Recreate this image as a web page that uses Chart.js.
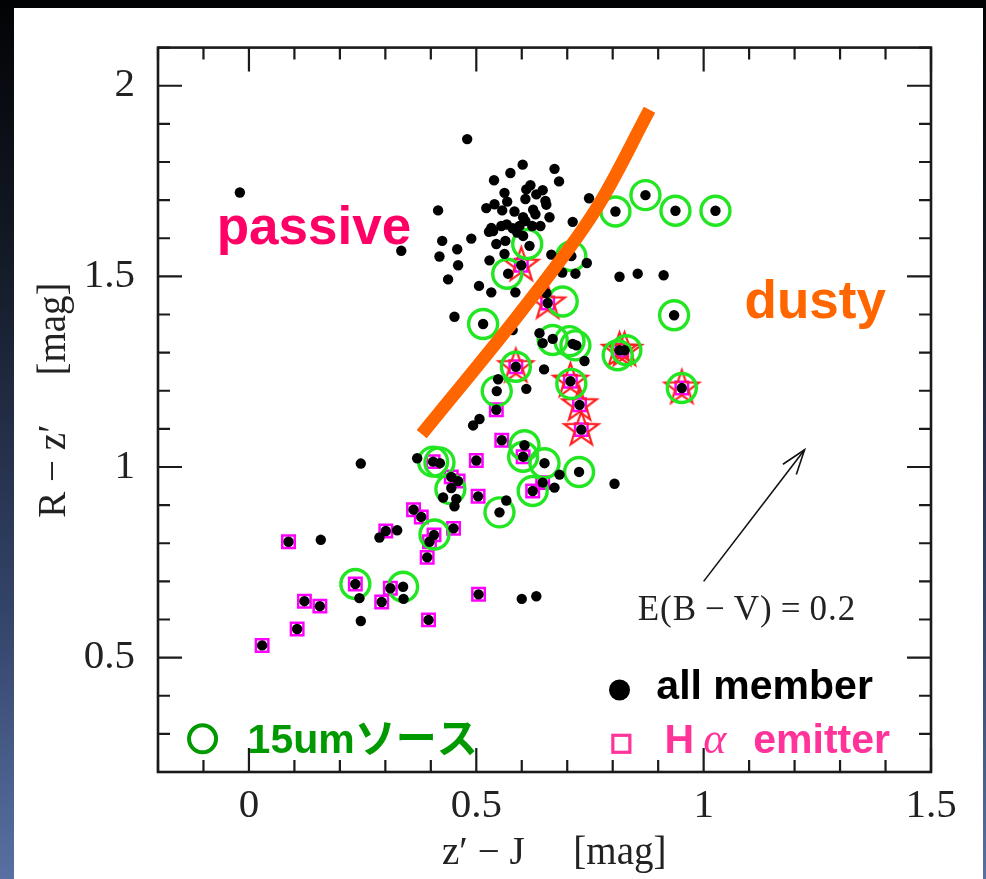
<!DOCTYPE html>
<html>
<head>
<meta charset="utf-8">
<script src="https://cdn.jsdelivr.net/npm/chart.js@4.4.0/dist/chart.umd.min.js"></script>
<style>
  html, body { margin: 0; padding: 0; }
  body {
    width: 986px; height: 879px; overflow: hidden; position: relative;
    background: linear-gradient(180deg, #020305 0%, #141b28 30%, #34446a 70%, #5870a2 100%);
  }
  #panel { position: absolute; left: 14px; top: 8px; width: 969px; height: 871px; background: #fff; }
  #chart { position: absolute; left: 0; top: 0; }
</style>
</head>
<body>
<div id="panel"></div>
<canvas id="chart" width="986" height="879"></canvas>
<script>
// colour-colour diagram: R-z' vs z'-J of cluster members

const X_TICKS = [0, 0.5, 1, 1.5];
const Y_TICKS = [0.5, 1, 1.5, 2];

// all members (filled dots)
const MEMBER_X = [
  -0.02, 0.48, 0.416, 0.539, 0.522, 0.540, 0.533, 0.335, 0.425, 0.489,
  0.419, 0.458, 0.460, 0.438, 0.529, 0.506, 0.533, 0.452, 0.515, 0.602,
  0.672, 0.575, 0.682, 0.619, 0.610, 0.646, 0.632, 0.562, 0.608, 0.652,
  0.654, 0.568, 0.557, 0.584, 0.625, 0.630, 0.603, 0.661, 0.748, 0.712,
  0.537, 0.555, 0.567, 0.580, 0.595, 0.608, 0.623, 0.641, 0.544, 0.564,
  0.603, 0.617, 0.590, 0.562, 0.665, 0.709, 0.743, 0.570, 0.586, 0.654,
  0.689, 0.718, 0.815, 0.855, 0.912, 0.806, 0.872, 0.938, 1.026, 0.935,
  0.580, 0.639, 0.646, 0.668, 0.712, 0.720, 0.738, 0.649, 0.587, 0.548,
  0.545, 0.610, 0.544, 0.507, 0.493, 0.599, 0.657, 0.707, 0.727, 0.731,
  0.815, 0.826, 0.952, 0.556, 0.606, 0.603, 0.650, 0.726, 0.683, 0.804,
  0.624, 0.646, 0.672, 0.551, 0.566, 0.370, 0.405, 0.420, 0.500, 0.445,
  0.427, 0.452, 0.456, 0.445, 0.460, 0.504, 0.362, 0.379, 0.407, 0.450,
  0.301, 0.326, 0.287, 0.087, 0.158, 0.397, 0.392, 0.234, 0.339, 0.311,
  0.340, 0.243, 0.292, 0.122, 0.156, 0.106, 0.029, 0.246, 0.395, 0.505,
  0.600, 0.632, 0.246, 0.528
];
const MEMBER_Y = [
  1.72, 1.86, 1.673, 1.752, 1.679, 1.689, 1.627, 1.567, 1.593, 1.599,
  1.552, 1.571, 1.529, 1.492, 1.542, 1.475, 1.458, 1.394, 1.375, 1.793,
  1.782, 1.771, 1.749, 1.739, 1.728, 1.726, 1.715, 1.719, 1.703, 1.698,
  1.688, 1.696, 1.673, 1.670, 1.675, 1.663, 1.655, 1.655, 1.705, 1.643,
  1.619, 1.632, 1.636, 1.626, 1.632, 1.645, 1.632, 1.632, 1.585, 1.593,
  1.606, 1.580, 1.615, 1.559, 1.557, 1.553, 1.535, 1.507, 1.458, 1.456,
  1.510, 1.507, 1.499, 1.507, 1.503, 1.670, 1.713, 1.672, 1.672, 1.398,
  1.359, 1.351, 1.325, 1.336, 1.323, 1.319, 1.278, 1.256, 1.263, 1.230,
  1.199, 1.205, 1.150, 1.126, 1.109, 1.529, 1.430, 1.225, 1.163, 1.098,
  1.306, 1.306, 1.207, 1.070, 1.057, 1.027, 1.010, 0.987, 0.980, 0.956,
  0.937, 0.959, 0.946, 0.881, 0.912, 1.023, 1.014, 1.010, 1.017, 0.945,
  0.920, 0.897, 0.916, 0.974, 0.963, 0.923, 0.888, 0.869, 0.822, 0.839,
  0.832, 0.834, 0.815, 0.804, 0.809, 0.804, 0.763, 0.693, 0.686, 0.682,
  0.654, 0.656, 0.646, 0.648, 0.635, 0.575, 0.532, 0.596, 0.599, 0.666,
  0.654, 0.661, 1.009, 1.617
];

// 15um sources (open circles)
const SOURCE_X = [
  0.612, 0.568, 0.709, 0.690, 0.515, 0.806, 0.872, 0.938, 1.026, 0.935,
  0.668, 0.705, 0.718, 0.587, 0.545, 0.709, 0.811, 0.830, 0.952, 0.606,
  0.603, 0.650, 0.726, 0.624, 0.551, 0.405, 0.419, 0.443, 0.408, 0.234, 0.339
];
const SOURCE_Y = [
  1.585, 1.507, 1.553, 1.434, 1.375, 1.670, 1.713, 1.672, 1.672, 1.398,
  1.333, 1.330, 1.319, 1.263, 1.199, 1.218, 1.293, 1.306, 1.207, 1.057,
  1.027, 1.010, 0.987, 0.937, 0.881, 1.014, 1.012, 0.942, 0.823, 0.693, 0.686
];

// starred objects
const STAR_X = [0.599, 0.657, 0.587, 0.707, 0.727, 0.731, 0.815, 0.826, 0.952];
const STAR_Y = [1.529, 1.430, 1.263, 1.225, 1.163, 1.098, 1.306, 1.306, 1.207];

// H-alpha emitters (open squares)
const EMITTER_X = [
  0.599, 0.657, 0.587, 0.707, 0.727, 0.731, 0.820, 0.952, 0.544, 0.556,
  0.603, 0.405, 0.500, 0.445, 0.460, 0.504, 0.624, 0.646, 0.362, 0.379,
  0.407, 0.450, 0.301, 0.087, 0.397, 0.392, 0.234, 0.311, 0.292, 0.122,
  0.156, 0.106, 0.029, 0.395, 0.505
];
const EMITTER_Y = [
  1.529, 1.430, 1.263, 1.225, 1.163, 1.098, 1.306, 1.207, 1.150, 1.070,
  1.027, 1.014, 1.017, 0.974, 0.963, 0.923, 0.937, 0.959, 0.888, 0.869,
  0.822, 0.839, 0.832, 0.804, 0.804, 0.763, 0.693, 0.682, 0.646, 0.648,
  0.635, 0.575, 0.532, 0.599, 0.666
];

// passive / dusty dividing line
const BOUNDARY_X = [0.380, 0.602, 0.760, 0.881];
const BOUNDARY_Y = [1.086, 1.413, 1.670, 1.937];

// reddening vector for E(B-V)=0.2
const ARROW_X = [1.000, 1.222];
const ARROW_Y = [0.700, 1.045];

const pairs = (xs, ys) => xs.map((x, i) => ({ x: x, y: ys[i] }));

function starImage(r, color, lw) {
  const s = Math.ceil(2 * r + 4 * lw);
  const c = document.createElement('canvas');
  c.width = s; c.height = s;
  const g = c.getContext('2d');
  g.strokeStyle = color;
  g.lineWidth = lw;
  g.beginPath();
  for (let i = 0; i < 10; i++) {
    const rad = i % 2 ? r * 0.4 : r;
    const a = -Math.PI / 2 + i * Math.PI / 5;
    const px = s / 2 + rad * Math.cos(a), py = s / 2 + rad * Math.sin(a);
    if (i) g.lineTo(px, py); else g.moveTo(px, py);
  }
  g.closePath();
  g.stroke();
  return c;
}

const serif = '"Liberation Serif", "Times New Roman", serif';
const sans = '"Liberation Sans", Arial, "Noto Sans CJK JP", sans-serif';

// frame with inward ticks on all four sides
const framePlugin = {
  id: 'frame',
  afterDatasetsDraw(chart) {
    const { ctx, chartArea: a, scales: { x, y } } = chart;
    ctx.save();
    ctx.strokeStyle = '#1a1a1a';
    ctx.lineWidth = 2.2;
    ctx.beginPath();
    for (let k = -2; k <= 15; k++) {
      const px = x.getPixelForValue(k / 10);
      const len = k % 5 === 0 ? 24 : 12;
      ctx.moveTo(px, a.bottom); ctx.lineTo(px, a.bottom - len);
      ctx.moveTo(px, a.top); ctx.lineTo(px, a.top + len);
    }
    for (let k = 2; k <= 21; k++) {
      const py = y.getPixelForValue(k / 10);
      const len = k % 5 === 0 ? 24 : 12;
      ctx.moveTo(a.left, py); ctx.lineTo(a.left + len, py);
      ctx.moveTo(a.right, py); ctx.lineTo(a.right - len, py);
    }
    ctx.stroke();
    ctx.lineWidth = 2.6;
    ctx.strokeRect(a.left, a.top, a.right - a.left, a.bottom - a.top);
    ctx.restore();
  }
};

// labels, arrow head and the legend block
const notesPlugin = {
  id: 'notes',
  afterDraw(chart) {
    const { ctx, scales: { x, y } } = chart;
    const X = v => x.getPixelForValue(v);
    const Y = v => y.getPixelForValue(v);
    ctx.save();
    ctx.textBaseline = 'alphabetic';
    ctx.textAlign = 'left';

    ctx.font = 'bold 53px ' + sans;
    ctx.fillStyle = '#ff0066';
    ctx.fillText('passive', X(-0.071), Y(1.585));
    ctx.fillStyle = '#ff6600';
    ctx.fillText('dusty', X(1.090), Y(1.392));

    // arrow head
    const x0 = X(ARROW_X[0]), y0 = Y(ARROW_Y[0]);
    const x1 = X(ARROW_X[1]), y1 = Y(ARROW_Y[1]);
    const ang = Math.atan2(y1 - y0, x1 - x0);
    ctx.strokeStyle = '#111';
    ctx.lineWidth = 1.6;
    ctx.beginPath();
    ctx.moveTo(x1 - 26 * Math.cos(ang - 0.33), y1 - 26 * Math.sin(ang - 0.33));
    ctx.lineTo(x1, y1);
    ctx.lineTo(x1 - 26 * Math.cos(ang + 0.33), y1 - 26 * Math.sin(ang + 0.33));
    ctx.stroke();

    ctx.fillStyle = '#222';
    ctx.font = '35px ' + serif;
    ctx.letterSpacing = '1px';
    ctx.fillText('E(B\u2009\u2212\u2009V)\u2009=\u20090.2', X(0.855), Y(0.598));
    ctx.letterSpacing = '0px';

    // legend: all member
    ctx.fillStyle = '#000';
    ctx.beginPath();
    ctx.arc(X(0.815), Y(0.415), 10.5, 0, Math.PI * 2);
    ctx.fill();
    ctx.font = 'bold 41px ' + sans;
    ctx.fillText('all member', X(0.896), Y(0.392));

    // legend: H alpha emitter
    ctx.strokeStyle = '#ff3399';
    ctx.lineWidth = 3.2;
    ctx.strokeRect(X(0.819) - 8.5, Y(0.274) - 8.5, 17, 17);
    ctx.fillStyle = '#ff3399';
    let tx = X(0.914);
    const base = Y(0.250);
    ctx.font = 'bold 41px ' + sans;
    ctx.fillText('H', tx, base);
    tx += ctx.measureText('H').width + 9;
    ctx.font = 'italic 44px ' + serif;
    ctx.fillText('\u03b1', tx, base);
    tx += ctx.measureText('\u03b1').width + 27;
    ctx.font = 'bold 41px ' + sans;
    ctx.fillText('emitter', tx, base);

    // legend: 15um sources
    ctx.strokeStyle = '#009900';
    ctx.lineWidth = 4;
    ctx.beginPath();
    ctx.arc(X(-0.102), Y(0.287), 13.5, 0, Math.PI * 2);
    ctx.stroke();
    ctx.fillStyle = '#009900';
    ctx.font = 'bold 41px ' + sans;
    ctx.fillText('15um\u30bd\u30fc\u30b9', X(-0.003), Y(0.250));

    ctx.restore();
  }
};

const tickFont = { family: serif, size: 41 };
const titleFont = { family: serif, size: 39 };

new Chart(document.getElementById('chart'), {
  type: 'scatter',
  data: {
    datasets: [
      {
        label: 'boundary',
        type: 'line',
        data: pairs(BOUNDARY_X, BOUNDARY_Y),
        borderColor: '#ff6600',
        borderWidth: 13,
        borderCapStyle: 'butt',
        pointRadius: 0,
        tension: 0.35,
        fill: false,
        order: -2
      },
      {
        label: 'reddening',
        type: 'line',
        data: pairs(ARROW_X, ARROW_Y),
        borderColor: '#111',
        borderWidth: 1.6,
        pointRadius: 0,
        fill: false,
        order: -1
      },
      {
        label: 'all member',
        data: pairs(MEMBER_X, MEMBER_Y),
        pointStyle: 'circle',
        pointRadius: 5.2,
        backgroundColor: '#000',
        borderWidth: 0,
        order: 0
      },
      {
        label: '15um',
        data: pairs(SOURCE_X, SOURCE_Y),
        pointStyle: 'circle',
        pointRadius: 14.5,
        backgroundColor: 'rgba(0,0,0,0)',
        borderColor: '#22e622',
        borderWidth: 3.4,
        order: 1
      },
      {
        label: 'star',
        data: pairs(STAR_X, STAR_Y),
        pointStyle: starImage(18, '#ff1f1f', 2.2),
        order: 2
      },
      {
        label: 'H alpha emitter',
        data: pairs(EMITTER_X, EMITTER_Y),
        pointStyle: 'rect',
        pointRadius: 8.8,
        backgroundColor: 'rgba(0,0,0,0)',
        borderColor: '#ff00ff',
        borderWidth: 2.5,
        order: 3
      }
    ]
  },
  options: {
    responsive: false,
    animation: false,
    devicePixelRatio: 1,
    events: [],
    layout: { padding: { top: 33, right: 55, left: 0, bottom: 0 } },
    plugins: {
      legend: { display: false },
      tooltip: { enabled: false }
    },
    scales: {
      x: {
        type: 'linear',
        min: -0.2,
        max: 1.5,
        grid: { display: false, drawTicks: false },
        border: { display: false },
        afterBuildTicks: s => { s.ticks = X_TICKS.map(v => ({ value: v })); },
        afterFit: s => { s.height = 107; },
        ticks: {
          color: '#222',
          font: tickFont,
          padding: 10,
          autoSkip: false,
          maxRotation: 0,
          callback: v => String(v)
        },
        title: {
          display: true,
          text: '  z\u2032 \u2212 J     [mag]',
          color: '#222',
          font: titleFont,
          padding: { top: 0, bottom: 2 }
        }
      },
      y: {
        type: 'linear',
        min: 0.2,
        max: 2.1,
        grid: { display: false, drawTicks: false },
        border: { display: false },
        afterBuildTicks: s => { s.ticks = Y_TICKS.map(v => ({ value: v })); },
        afterFit: s => { s.width = 158; },
        ticks: {
          color: '#222',
          font: tickFont,
          padding: 23,
          autoSkip: false,
          callback: v => String(v)
        },
        title: {
          display: true,
          text: '  R \u2212 z\u2032     [mag]',
          color: '#222',
          font: titleFont,
          padding: { top: 31, bottom: 0 }
        }
      }
    }
  },
  plugins: [framePlugin, notesPlugin]
});
</script>
</body>
</html>
